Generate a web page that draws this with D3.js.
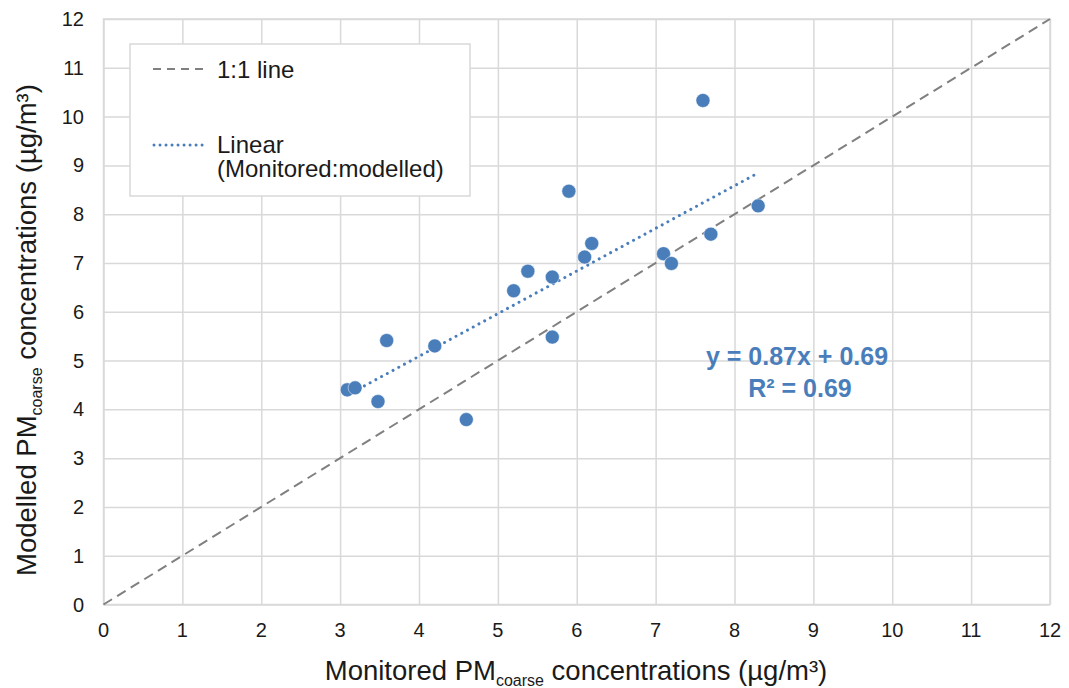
<!DOCTYPE html>
<html><head><meta charset="utf-8">
<script src="https://cdn.jsdelivr.net/npm/d3@7"></script>
<style>body{margin:0;background:#fff}svg{display:block}text{font-family:"Liberation Sans",Arial,sans-serif}</style>
</head><body><svg id="c" width="1069" height="688"></svg>
<script>
const monitored = [3.09,3.19,3.48,3.59,4.20,4.60,5.20,5.38,5.69,5.69,5.90,6.10,6.19,7.10,7.20,7.60,7.70,8.30];
const modelled  = [4.40,4.44,4.16,5.41,5.30,3.79,6.43,6.83,6.71,5.48,8.47,7.12,7.40,7.19,6.99,10.33,7.59,8.17];
const ticks = [0,1,2,3,4,5,6,7,8,9,10,11,12];
const oneToOne = [0,12];
const legendLabels = ["1:1 line","Linear","(Monitored:modelled)"];
const eqLabels = ["y = 0.87x + 0.69","R² = 0.69"];

const svg = d3.select("#c");
const x = d3.scaleLinear().domain([0,12]).range([103.5,1050]);
const y = d3.scaleLinear().domain([0,12]).range([604.5,19]);
const grid = "#d9d9d9", blue = "#4a7ebb";

svg.append("g").attr("transform",`translate(0,${y(0)})`)
  .call(d3.axisBottom(x).tickValues(ticks).tickSize(-(y(0)-y(12))).tickFormat(""))
  .call(g=>{g.select(".domain").remove();g.selectAll("line").attr("stroke",grid).attr("stroke-width",1.5);});
svg.append("g").attr("transform",`translate(${x(0)},0)`)
  .call(d3.axisLeft(y).tickValues(ticks).tickSize(-(x(12)-x(0))).tickFormat(""))
  .call(g=>{g.select(".domain").remove();g.selectAll("line").attr("stroke",grid).attr("stroke-width",1.5);});
svg.append("rect").attr("x",x(0)).attr("y",y(12)).attr("width",x(12)-x(0)).attr("height",y(0)-y(12))
  .attr("fill","none").attr("stroke",grid).attr("stroke-width",1.5);

svg.append("g").selectAll("text").data(ticks).join("text")
  .attr("x",d=>x(d)).attr("y",637).attr("text-anchor","middle")
  .attr("font-size",20).attr("fill","#1a1a1a").text(d=>d);
svg.append("g").selectAll("text").data(ticks).join("text")
  .attr("x",84).attr("y",d=>y(d)+7).attr("text-anchor","end")
  .attr("font-size",20).attr("fill","#1a1a1a").text(d=>d);

svg.append("line").attr("x1",x(oneToOne[0])).attr("y1",y(oneToOne[0])).attr("x2",x(oneToOne[1])).attr("y2",y(oneToOne[1]))
  .attr("stroke","#808080").attr("stroke-width",2).attr("stroke-dasharray","10,6");

const n = monitored.length, mx = d3.mean(monitored), my = d3.mean(modelled);
let sxy=0,sxx=0; for(let i=0;i<n;i++){sxy+=(monitored[i]-mx)*(modelled[i]-my);sxx+=(monitored[i]-mx)**2;}
const b = sxy/sxx, a = my - b*mx;
const [x0,x1] = d3.extent(monitored);
svg.append("line").attr("x1",x(x0)).attr("y1",y(a+b*x0)).attr("x2",x(x1)).attr("y2",y(a+b*x1))
  .attr("stroke",blue).attr("stroke-width",3).attr("stroke-dasharray","0.01,6.5").attr("stroke-linecap","round");

svg.append("g").selectAll("circle").data(monitored).join("circle")
  .attr("cx",d=>x(d)).attr("cy",(d,i)=>y(modelled[i])).attr("r",7)
  .attr("fill",blue).attr("stroke","#fff").attr("stroke-width",0.8).attr("stroke-opacity",0.6);

const lg = svg.append("g");
lg.append("rect").attr("x",130).attr("y",44).attr("width",340).attr("height",152).attr("fill","#fff").attr("stroke","#d9d9d9").attr("stroke-width",1.5);
lg.append("line").attr("x1",153).attr("x2",207).attr("y1",69).attr("y2",69).attr("stroke","#808080").attr("stroke-width",2).attr("stroke-dasharray","8,6");
lg.append("line").attr("x1",154).attr("x2",207).attr("y1",145).attr("y2",145).attr("stroke",blue).attr("stroke-width",3).attr("stroke-dasharray","0.01,6").attr("stroke-linecap","round");
lg.append("text").attr("x",217).attr("y",77.5).attr("font-size",24).attr("fill","#1a1a1a").text(legendLabels[0]);
lg.append("text").attr("x",217).attr("y",152.5).attr("font-size",24).attr("fill","#1a1a1a").text(legendLabels[1]);
lg.append("text").attr("x",217).attr("y",177).attr("font-size",24).attr("fill","#1a1a1a").text(legendLabels[2]);

svg.append("text").attr("x",797).attr("y",365).attr("text-anchor","middle").attr("font-size",25).attr("font-weight","bold").attr("fill",blue).text(eqLabels[0]);
svg.append("text").attr("x",800).attr("y",396.5).attr("text-anchor","middle").attr("font-size",25).attr("font-weight","bold").attr("fill",blue).text(eqLabels[1]);

const xt = svg.append("text").attr("x",576).attr("y",680).attr("text-anchor","middle").attr("font-size",27.5).attr("fill","#1a1a1a");
xt.append("tspan").text("Monitored PM");
xt.append("tspan").attr("font-size",16).attr("dy",6).text("coarse");
xt.append("tspan").attr("dy",-6).text(" concentrations (µg/m³)");
const yt = svg.append("text").attr("transform","translate(36,330) rotate(-90)").attr("text-anchor","middle").attr("font-size",27.5).attr("fill","#1a1a1a");
yt.append("tspan").text("Modelled PM");
yt.append("tspan").attr("font-size",16).attr("dy",6).text("coarse");
yt.append("tspan").attr("dy",-6).text(" concentrations (µg/m³)");
</script></body></html>
